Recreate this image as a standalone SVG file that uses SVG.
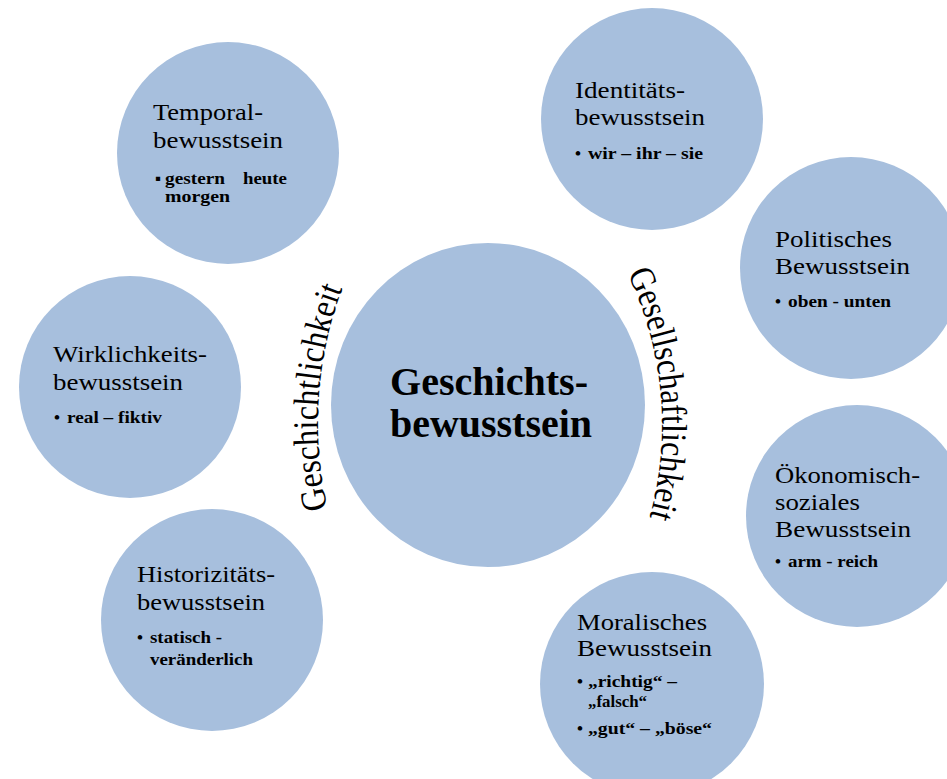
<svg xmlns="http://www.w3.org/2000/svg" width="947" height="779" viewBox="0 0 947 779">
<style>
.c{fill:#a7bfdd}
.h{font-family:'Liberation Serif',serif;font-size:24px;fill:#000}
.b{font-family:'Liberation Serif',serif;font-size:17px;font-weight:bold;fill:#000}
.t{font-family:'Liberation Serif',serif;font-size:40px;font-weight:bold;fill:#000}
.a{font-family:'Liberation Serif',serif;font-size:36px;fill:#000}
</style>
<defs>
<path id="pl" d="M 341 553.7 A 382 382 0 0 1 387.1 203.9"/>
<path id="pr" d="M 599.1 225.4 A 348 348 0 0 1 629.4 572.1"/>
</defs>
<rect width="947" height="779" fill="#fff"/>
<g id="center">
<ellipse class="c" cx="488" cy="405" rx="157" ry="162"/>
<text class="t" x="390" y="395" textLength="198" lengthAdjust="spacingAndGlyphs">Geschichts-</text>
<text class="t" x="390" y="437" textLength="202" lengthAdjust="spacingAndGlyphs">bewusstsein</text>
</g>
<g id="temporal">
<circle class="c" cx="228" cy="153" r="111"/>
<text class="h" x="153" y="120" textLength="110" lengthAdjust="spacingAndGlyphs">Temporal-</text>
<text class="h" x="153" y="148" textLength="130" lengthAdjust="spacingAndGlyphs">bewusstsein</text>
<text class="b" x="155" y="184">▪</text>
<text class="b" x="165" y="184" textLength="60" lengthAdjust="spacingAndGlyphs">gestern</text>
<text class="b" x="243" y="184" textLength="44" lengthAdjust="spacingAndGlyphs">heute</text>
<text class="b" x="165" y="202" textLength="65" lengthAdjust="spacingAndGlyphs">morgen</text>
</g>
<g id="identitaet">
<circle class="c" cx="652" cy="119" r="111"/>
<text class="h" x="575" y="98" textLength="110" lengthAdjust="spacingAndGlyphs">Identitäts-</text>
<text class="h" x="575" y="125" textLength="130" lengthAdjust="spacingAndGlyphs">bewusstsein</text>
<text class="b" x="575" y="159">•</text>
<text class="b" x="588" y="159" textLength="115" lengthAdjust="spacingAndGlyphs">wir – ihr – sie</text>
</g>
<g id="politisch">
<circle class="c" cx="851" cy="268" r="111"/>
<text class="h" x="775" y="247" textLength="117" lengthAdjust="spacingAndGlyphs">Politisches</text>
<text class="h" x="775" y="274" textLength="135" lengthAdjust="spacingAndGlyphs">Bewusstsein</text>
<text class="b" x="775" y="307">•</text>
<text class="b" x="788" y="307" textLength="103" lengthAdjust="spacingAndGlyphs">oben - unten</text>
</g>
<g id="oekonomisch">
<circle class="c" cx="857" cy="516" r="111"/>
<text class="h" x="775" y="483" textLength="145" lengthAdjust="spacingAndGlyphs">Ökonomisch-</text>
<text class="h" x="775" y="510" textLength="85" lengthAdjust="spacingAndGlyphs">soziales</text>
<text class="h" x="775" y="537" textLength="136" lengthAdjust="spacingAndGlyphs">Bewusstsein</text>
<text class="b" x="775" y="567">•</text>
<text class="b" x="788" y="567" textLength="90" lengthAdjust="spacingAndGlyphs">arm - reich</text>
</g>
<g id="moralisch">
<circle class="c" cx="652" cy="684" r="112"/>
<text class="h" x="577" y="630" textLength="130" lengthAdjust="spacingAndGlyphs">Moralisches</text>
<text class="h" x="577" y="656" textLength="135" lengthAdjust="spacingAndGlyphs">Bewusstsein</text>
<text class="b" x="577" y="687">•</text>
<text class="b" x="588" y="687" textLength="89" lengthAdjust="spacingAndGlyphs">„richtig“ –</text>
<text class="b" x="588" y="707" textLength="59" lengthAdjust="spacingAndGlyphs">„falsch“</text>
<text class="b" x="577" y="734">•</text>
<text class="b" x="588" y="734" textLength="124" lengthAdjust="spacingAndGlyphs">„gut“ – „böse“</text>
</g>
<g id="historizitaet">
<circle class="c" cx="212" cy="620" r="111"/>
<text class="h" x="137" y="582" textLength="138" lengthAdjust="spacingAndGlyphs">Historizitäts-</text>
<text class="h" x="137" y="610" textLength="128" lengthAdjust="spacingAndGlyphs">bewusstsein</text>
<text class="b" x="137" y="643">•</text>
<text class="b" x="150" y="643" textLength="72" lengthAdjust="spacingAndGlyphs">statisch -</text>
<text class="b" x="150" y="665" textLength="103" lengthAdjust="spacingAndGlyphs">veränderlich</text>
</g>
<g id="wirklichkeit">
<circle class="c" cx="130" cy="387" r="111"/>
<text class="h" x="53" y="362" textLength="154" lengthAdjust="spacingAndGlyphs">Wirklichkeits-</text>
<text class="h" x="53" y="390" textLength="130" lengthAdjust="spacingAndGlyphs">bewusstsein</text>
<text class="b" x="54" y="423">•</text>
<text class="b" x="67" y="423" textLength="95" lengthAdjust="spacingAndGlyphs">real – fiktiv</text>
</g>
<g id="connectors">
<text class="a"><textPath href="#pl" startOffset="47" textLength="224" lengthAdjust="spacingAndGlyphs">Geschichtlichkeit</textPath></text>
<text class="a"><textPath href="#pr" startOffset="56" textLength="250" lengthAdjust="spacingAndGlyphs">Gesellschaftlichkeit</textPath></text>
</g>
</svg>
